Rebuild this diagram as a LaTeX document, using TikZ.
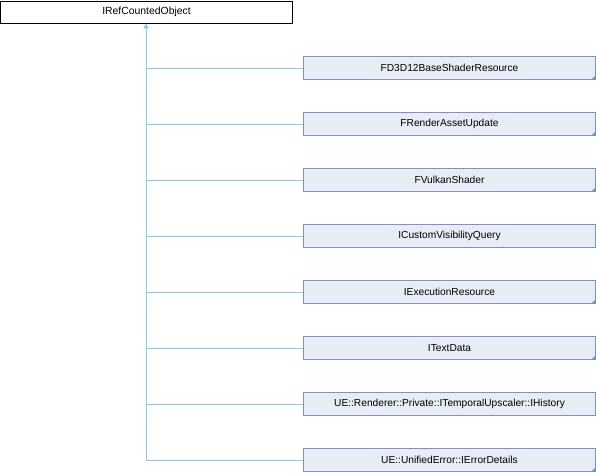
\documentclass[tikz,border=0pt]{standalone}
\usepackage{fontspec}
\setmainfont{Liberation Sans}
\usetikzlibrary{arrows.meta}
\definecolor{edgeblue}{HTML}{8CC8E8}
\definecolor{boxborder}{HTML}{7B93C4}
\definecolor{boxfill}{HTML}{E8ECF5}
\begin{document}
\begin{tikzpicture}[x=1pt,y=-1pt,
  base/.style={draw=black,fill=white,line width=0.9pt,minimum width=292pt,minimum height=22pt,inner sep=0pt,font=\fontsize{10.4}{12}\selectfont},
  child/.style={draw=boxborder,fill=boxfill,line width=0.9pt,minimum width=292.5pt,minimum height=22.5pt,inner sep=0pt,font=\fontsize{10.2}{12}\selectfont},
  edge/.style={draw=edgeblue,line width=0.9pt},
  more/.style={fill=boxborder,draw=none}]
\useasboundingbox (0,0) rectangle (596,472);
\fill[white] (0,0) rectangle (596,472);
\node[base] (root) at (146.5,12) {IRefCountedObject};
\node[child] (c1) at (449.5,68) {FD3D12BaseShaderResource};
\node[child] (c2) at (449.5,124) {FRenderAssetUpdate};
\node[child] (c3) at (449.5,180) {FVulkanShader};
\node[child] (c4) at (449.5,236) {ICustomVisibilityQuery};
\node[child] (c5) at (449.5,292) {IExecutionResource};
\node[child] (c6) at (449.5,348) {ITextData};
\node[child] (c7) at (449.5,404) {UE::Renderer::Private::ITemporalUpscaler::IHistory};
\node[child] (c8) at (449.5,460) {UE::UnifiedError::IErrorDetails};
\foreach \n in {c1,c2,c3,c5,c6,c8}{
  \fill[more] (\n.south east) ++(-0.5,-0.5) -- ++(-4,0) -- ++(4,-4) -- cycle;
}
\coordinate (j) at (146,460);
\draw[edge,-{Triangle[width=5pt,length=5pt]}] (j) -- (root.south -| j);
\foreach \n in {c1,c2,c3,c4,c5,c6,c7,c8}{
  \draw[edge] (\n.west) -- (\n.west -| j);
}
\end{tikzpicture}
\end{document}
